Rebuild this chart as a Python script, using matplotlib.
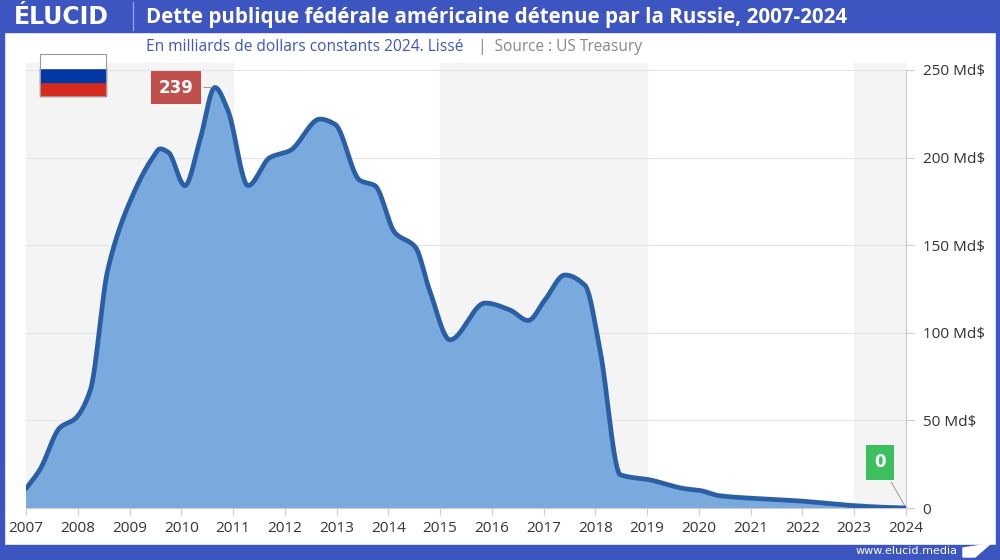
import matplotlib
matplotlib.use("Agg")
import matplotlib.pyplot as plt
import numpy as np
from matplotlib.patches import Rectangle, Polygon

years = [2007.0, 2007.27, 2007.66, 2007.95, 2008.24, 2008.58, 2009.1, 2009.45, 2009.59, 2009.75, 2010.07, 2010.36,
         2010.65, 2010.9, 2011.29, 2011.71, 2012.1, 2012.68, 2012.97, 2013.45, 2013.74, 2014.13, 2014.52,
         2014.8, 2015.19, 2015.87, 2016.35, 2016.7, 2017.03, 2017.41, 2017.8, 2018.09, 2018.48, 2019.06,
         2019.73, 2020.02, 2020.4, 2021.37, 2021.95, 2022.92, 2023.5, 2024.0]
values = [11, 22, 46, 51, 67, 136, 181, 200, 205, 203, 184, 210, 240, 227, 184, 200, 204, 222, 219, 187, 184,
          157, 149, 124, 96, 117, 113, 107, 119, 133, 127, 90, 19, 16, 11, 10, 7, 5, 4, 1.5, 0.5, 0]
yticks = [0, 50, 100, 150, 200, 250]
ytick_labels = ["0", "50 Md$", "100 Md$", "150 Md$", "200 Md$", "250 Md$"]
xticks = list(range(2007, 2025))


def pchip(x, y, xs):
    x = np.asarray(x, float); y = np.asarray(y, float)
    h = np.diff(x); d = np.diff(y) / h
    m = np.zeros_like(y)
    for k in range(1, len(x) - 1):
        if d[k-1] * d[k] > 0:
            w1 = 2*h[k] + h[k-1]; w2 = h[k] + 2*h[k-1]
            m[k] = (w1 + w2) / (w1/d[k-1] + w2/d[k])
    m[0] = d[0]; m[-1] = d[-1]
    idx = np.clip(np.searchsorted(x, xs) - 1, 0, len(x) - 2)
    t = (xs - x[idx]) / h[idx]
    h00 = 2*t**3 - 3*t**2 + 1; h10 = t**3 - 2*t**2 + t
    h01 = -2*t**3 + 3*t**2; h11 = t**3 - t**2
    return h00*y[idx] + h10*h[idx]*m[idx] + h01*y[idx+1] + h11*h[idx]*m[idx+1]


BLUE = "#3d55c0"
fig = plt.figure(figsize=(10, 5.6), dpi=100)
fig.patch.set_facecolor("white")
fig.add_artist(Rectangle((0, 1 - 32/560), 1, 32/560, transform=fig.transFigure, color=BLUE, zorder=0))
fig.add_artist(Rectangle((0, 0), 1, 15/560, transform=fig.transFigure, color=BLUE, zorder=0))
fig.add_artist(Rectangle((0, 0), 4/1000, 1, transform=fig.transFigure, color=BLUE, zorder=0))
fig.add_artist(Rectangle((1 - 4/1000, 0), 4/1000, 1, transform=fig.transFigure, color=BLUE, zorder=0))
fig.add_artist(plt.Line2D([133/1000, 133/1000], [1 - 30/560, 1 - 2/560], transform=fig.transFigure, color="#8fa0e0", lw=1))
fig.text(14/1000, 1 - 17/560, "ÉLUCID", color="white", fontsize=17, fontweight="bold", va="center", family="DejaVu Sans")
fig.text(146/1000, 1 - 17/560, "Dette publique fédérale américaine détenue par la Russie, 2007-2024",
         color="white", fontsize=14.8, fontweight="bold", va="center", family="Open Sans")
fig.text(146/1000, 1 - 47/560, "En milliards de dollars constants 2024. Lissé", color=BLUE, fontsize=11.2, va="center", family="Open Sans")
fig.text(478/1000, 1 - 47/560, "|  Source : US Treasury", color="#888888", fontsize=11.2, va="center", family="Open Sans")
fig.text(958/1000, 9/560, "www.elucid.media", color="white", fontsize=8, va="center", ha="right")
fig.add_artist(Polygon([[963/1000, 3/560], [975/1000, 3/560], [990/1000, 16/560], [963/1000, 12/560]],
                       closed=True, transform=fig.transFigure, color="white"))

fx, fy, fw, fh = 40/1000, 1 - 96/560, 66/1000, 42/560
for i, c in enumerate(["#d52b1e", "#0039a6", "#ffffff"]):
    fig.add_artist(Rectangle((fx, fy + i*fh/3), fw, fh/3, transform=fig.transFigure, color=c, zorder=3))
fig.add_artist(Rectangle((fx, fy), fw, fh, transform=fig.transFigure, fill=False, ec="#999999", lw=0.8, zorder=4))

ax = fig.add_axes([26/1000, 52/560, 880/1000, 438/560])
ax.set_xlim(2007, 2024)
ax.set_ylim(0, 250)
for a, b in [(2007, 2011), (2015, 2019), (2023, 2024)]:
    ax.axvspan(a, b, ymax=1.015, color="#f4f4f4", zorder=0, clip_on=False)
for y in yticks[1:]:
    ax.axhline(y, color="#e4e4e4", lw=0.8, zorder=1)
xs = np.linspace(years[0], years[-1], 1200)
vs = pchip(years, values, xs)
ax.fill_between(xs, vs, color="#7aa9dd", zorder=2)
ax.plot(xs, vs, color="#2a5fa5", lw=3.4, zorder=3, solid_capstyle="round")
for s in ["top", "left"]:
    ax.spines[s].set_visible(False)
ax.spines["right"].set_color("#cccccc")
ax.spines["bottom"].set_color("#cccccc")
ax.yaxis.tick_right()
ax.set_yticks(yticks, ytick_labels)
ax.set_xticks(xticks, [str(t) for t in xticks])
ax.tick_params(axis="y", length=6, color="#cccccc", labelsize=11, labelcolor="#333333", pad=6)
ax.tick_params(axis="x", length=5, color="#cccccc", labelsize=11, labelcolor="#333333", pad=4)
for t in ax.get_xticklabels() + ax.get_yticklabels():
    t.set_family("Open Sans")

ax.annotate("239", xy=(2010.65, 240), xytext=(2009.9, 240), color="white", fontsize=12, fontweight="bold",
            ha="center", va="center", bbox=dict(boxstyle="square,pad=0.45", fc="#c0504d", ec="none"),
            arrowprops=dict(arrowstyle="-", color="#999999", lw=0.7), annotation_clip=False)
ax.annotate("0", xy=(2024, 0), xytext=(2023.5, 26), color="white", fontsize=12, fontweight="bold",
            ha="center", va="center", bbox=dict(boxstyle="square,pad=0.5", fc="#3cbf5f", ec="none"),
            arrowprops=dict(arrowstyle="-", color="#999999", lw=0.7), annotation_clip=False)
fig.savefig("out.png", dpi=100)
